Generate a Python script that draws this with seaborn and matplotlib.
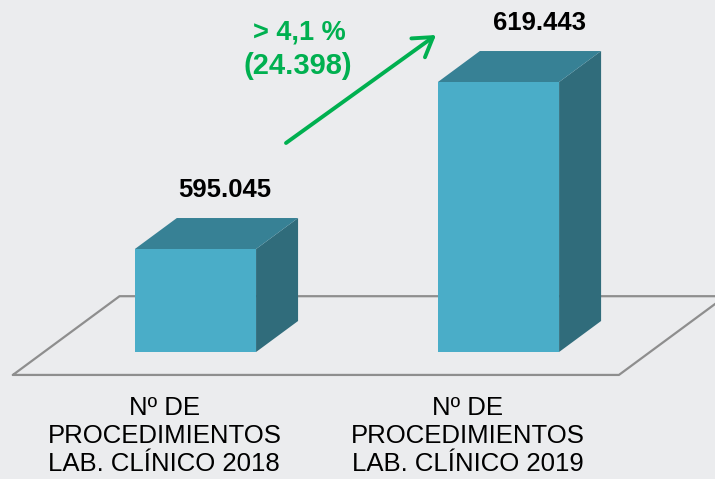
import numpy as np
import pandas as pd
import matplotlib
matplotlib.use("Agg")
import matplotlib.pyplot as plt
import seaborn as sns

# Data
categories = ["Nº DE\nPROCEDIMIENTOS\nLAB. CLÍNICO 2018",
              "Nº DE\nPROCEDIMIENTOS\nLAB. CLÍNICO 2019"]
values = [595045, 619443]
value_labels = ["595.045", "619.443"]
axis_floor = 580000  # truncated base of the value axis

# Style
BG = "#EBECEE"
FRONT = "#4AADC8"
TOP = "#378195"
SIDE = "#306C7B"
FLOOR_LINE = "#8E8E8E"
GREEN = "#00B050"

sns.set_style("white")
plt.rcParams["font.family"] = ["Liberation Sans", "DejaVu Sans"]

W, H = 715, 479
fig = plt.figure(figsize=(W / 100, H / 100), dpi=100, facecolor=BG)
ax = fig.add_axes([0, 0, 1, 1])
ax.set_facecolor(BG)

df = pd.DataFrame({"cat": categories, "value": values})
sns.barplot(data=df, x="cat", y="value", width=0.4, color=FRONT,
            saturation=1, ax=ax, zorder=3)

# value per pixel and category units per pixel
vpp = (values[1] - values[0]) / 167.0
x_lo, x_hi = -0.645, 1.7145
xpp = (x_hi - x_lo) / W
base_px = 127  # baseline height from the bottom of the figure
# set limits after seaborn, which resets the categorical axis
ax.set_xlim(x_lo, x_hi)
ax.set_ylim(axis_floor - base_px * vpp, axis_floor + (H - base_px) * vpp)

# depth offset of the 3D look
DX = 42 * xpp
DY = 31 * vpp

# floor parallelogram (depth measured in bar depths)
d0, d1 = -0.74, 1.8
fx0, fx1 = -0.5, 1.5
floor_x = [fx0 + d0 * DX, fx1 + d0 * DX, fx1 + d1 * DX, fx0 + d1 * DX, fx0 + d0 * DX]
floor_y = [axis_floor + d0 * DY, axis_floor + d0 * DY, axis_floor + d1 * DY,
           axis_floor + d1 * DY, axis_floor + d0 * DY]
ax.plot(floor_x, floor_y, color=FLOOR_LINE, lw=1.6, zorder=0.5, clip_on=False)

for p in ax.patches:
    p.set_height(p.get_height() - axis_floor)
    p.set_y(axis_floor)
    p.set_linewidth(0)

label_nudge_px = [0, 12]
for i, p in enumerate(ax.patches):
    x0 = p.get_x()
    x1 = x0 + p.get_width()
    y0 = p.get_y()
    y1 = y0 + p.get_height()
    # side face
    ax.fill([x1, x1 + DX, x1 + DX, x1], [y0, y0 + DY, y1 + DY, y1],
            color=SIDE, lw=0, zorder=2)
    # top face
    ax.fill([x0, x1, x1 + DX, x0 + DX], [y1, y1, y1 + DY, y1 + DY],
            color=TOP, lw=0, zorder=2)
    cx = (x0 + x1) / 2
    ax.text(cx + 0.7 * DX + label_nudge_px[i] * xpp, y1 + DY + 21 * vpp,
            value_labels[i], ha="center", va="baseline",
            fontsize=18.5, fontweight="bold", color="black")
    # category label below floor
    ax.text(cx + d0 * DX, axis_floor + (d0 * 31 - 21) * vpp, categories[i],
            ha="center", va="top", fontsize=18.5, linespacing=1.21,
            color="black")

# growth annotation
diff = values[1] - values[0]
pct = diff / values[0] * 100
pct_txt = "> " + f"{pct:.1f}".replace(".", ",") + " %"
diff_txt = "(" + f"{diff:,}".replace(",", ".") + ")"


def px(xp, yp):
    return x_lo + xp * xpp, axis_floor + (H - yp - base_px) * vpp


ax.annotate("", xy=px(436, 35), xytext=px(286, 143),
            arrowprops=dict(arrowstyle="->,head_length=0.6,head_width=0.38",
                            color=GREEN, lw=2.8, mutation_scale=22,
                            shrinkA=0, shrinkB=0))
tx, ty = px(299, 39)
ax.text(tx, ty, pct_txt, ha="center", va="baseline", fontsize=19.5,
        fontweight="bold", color=GREEN)
tx, ty = px(298, 74)
ax.text(tx, ty, diff_txt, ha="center", va="baseline", fontsize=21,
        fontweight="bold", color=GREEN)

ax.set_xlabel("")
ax.set_ylabel("")
ax.axis("off")

fig.savefig("out.png", dpi=100, facecolor=BG)
